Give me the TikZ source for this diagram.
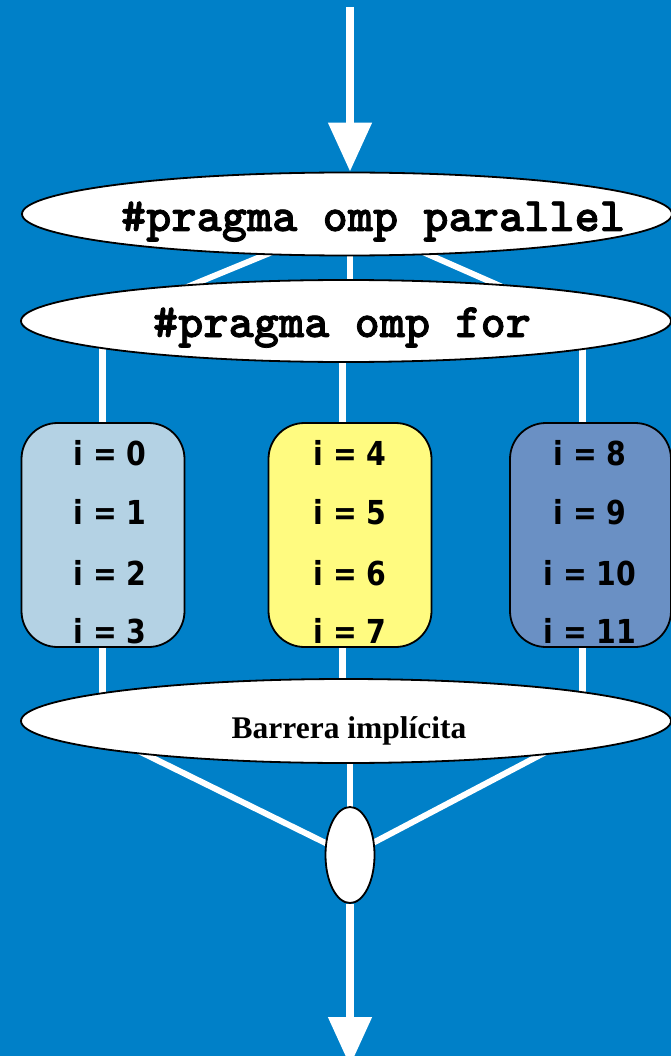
\documentclass[tikz,border=0pt]{standalone}
\usepackage{fontspec}
\usetikzlibrary{shapes.geometric,arrows.meta}
\newfontfamily\numfont[FakeStretch=0.86]{DejaVu Sans}
\newfontfamily\barfont{Liberation Serif}
\newfontfamily\codefont[FakeBold=1.6]{lmmonolt10-bold.otf}
\definecolor{bgblue}{RGB}{0,128,200}
\definecolor{boxA}{RGB}{180,210,228}
\definecolor{boxB}{RGB}{255,251,128}
\definecolor{boxC}{RGB}{106,144,196}
\tikzset{
  wline/.style={white,line width=7pt},
  wdiag/.style={white,line width=6pt},
  bigarrow/.style={white,line width=8pt,-{Triangle[width=42pt,length=49pt]}},
  oval/.style={ellipse,draw=black,line width=1.8pt,fill=white,inner sep=0pt},
  iterbox/.style={rectangle,rounded corners=36pt,draw=black,line width=1.8pt,inner sep=0pt,minimum width=163pt,minimum height=224pt},
  codetxt/.style={font=\codefont\fontsize{48}{48}\selectfont,inner sep=0pt,anchor=base},
  itxt/.style={font=\numfont\bfseries\fontsize{33}{33}\selectfont,inner sep=0pt,anchor=base},
  bartxt/.style={font=\barfont\bfseries\fontsize{31.5}{31.5}\selectfont,inner sep=0pt,anchor=base}
}
\begin{document}
\begin{tikzpicture}[x=1pt,y=-1pt]
\useasboundingbox (0,0) rectangle (671,1056);
\fill[bgblue] (0,0) rectangle (671,1056);
% hidden connector end points
\coordinate (start) at (350,7);
\coordinate (fork) at (350,220);
\coordinate (forkL) at (102,322);
\coordinate (forkR) at (582,322);
\coordinate (forkM) at (350,300);
\coordinate (c1t) at (102,330);
\coordinate (c2t) at (342,330);
\coordinate (c3t) at (582,330);
\coordinate (c1b) at (102,710);
\coordinate (c2b) at (342,710);
\coordinate (c3b) at (582,710);
\coordinate (joinL) at (102,733);
\coordinate (joinR) at (582,733);
\coordinate (joinM) at (350,730);
\coordinate (jc) at (350,855);
\coordinate (endpt) at (350,1066);
% white connectors (behind shapes)
\draw[wdiag] (fork) -- (forkL);
\draw[wdiag] (fork) -- (forkR);
\draw[wdiag] (fork) -- (forkM);
\draw[wline] (c1t) -- (c1b);
\draw[wline] (c2t) -- (c2b);
\draw[wline] (c3t) -- (c3b);
\draw[wdiag] (jc) -- (joinL);
\draw[wdiag] (jc) -- (joinR);
\draw[wdiag] (jc) -- (joinM);
% shapes
\node[oval,minimum width=650pt,minimum height=83pt] (par) at (347,214) {};
\node[oval,minimum width=650pt,minimum height=82pt] (for) at (346,321) {};
\node[iterbox,fill=boxA] (b1) at (103,535) {};
\node[iterbox,fill=boxB] (b2) at (350,535) {};
\node[iterbox,fill=boxC,minimum width=161pt] (b3) at (590.5,535) {};
\node[oval,minimum width=650pt,minimum height=84pt] (bar) at (346,721) {};
\node[oval,minimum width=49pt,minimum height=96pt] (j) at (jc) {};
% texts
\node[codetxt] (tpar) at (373,231) {\#pragma omp parallel};
\node[codetxt] (tfor) at (342,337) {\#pragma omp for};
\node[itxt] (i0) at (110,465) {i = 0};
\node[itxt] (i1) at (110,524) {i = 1};
\node[itxt] (i2) at (110,585) {i = 2};
\node[itxt] (i3) at (110,643) {i = 3};
\node[itxt] (i4) at (350,465) {i = 4};
\node[itxt] (i5) at (350,524) {i = 5};
\node[itxt] (i6) at (350,585) {i = 6};
\node[itxt] (i7) at (350,643) {i = 7};
\node[itxt] (i8) at (590,465) {i = 8};
\node[itxt] (i9) at (590,524) {i = 9};
\node[itxt] (i10) at (590,585) {i = 10};
\node[itxt] (i11) at (590,643) {i = 11};
\node[bartxt] (tbar) at (349,738) {Barrera implícita};
% arrows
\draw[bigarrow] (start) -- (start |- par.north);
\draw[bigarrow] (j.south) -- (endpt);
\end{tikzpicture}
\end{document}
